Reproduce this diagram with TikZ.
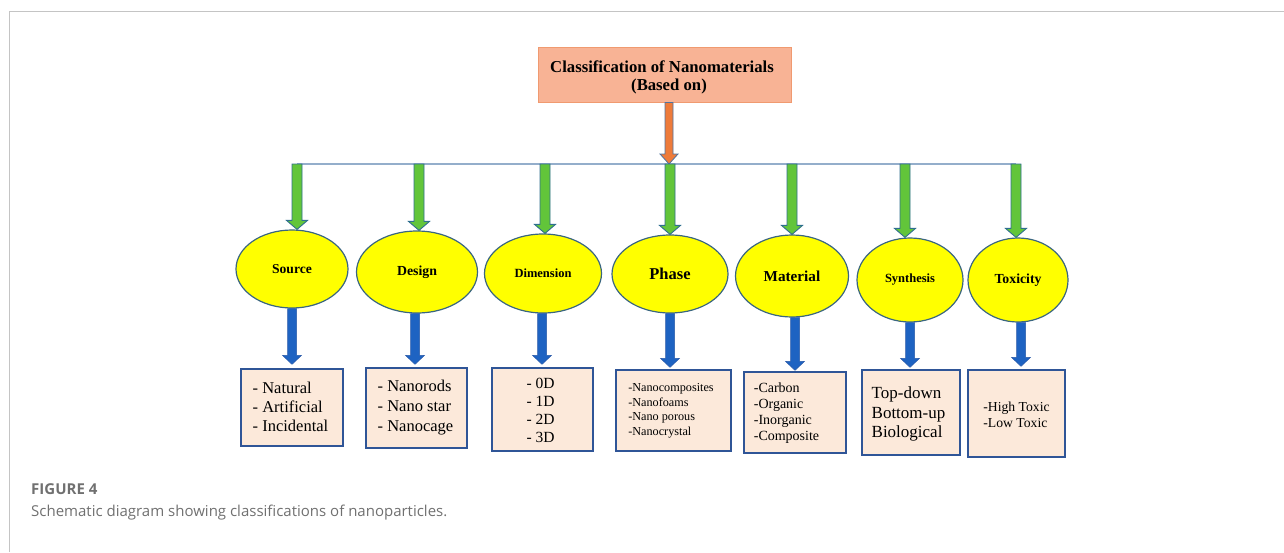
\documentclass[tikz,border=0pt]{standalone}
\usepackage{fontspec}
\setmainfont{Liberation Serif}
\newfontfamily\capfont{Open Sans}
\usetikzlibrary{shapes.geometric,calc}

\definecolor{ellfill}{HTML}{FFFF00}
\definecolor{elldraw}{HTML}{3A6680}
\definecolor{grn}{HTML}{62C53A}
\definecolor{grnd}{HTML}{2F6F8F}
\definecolor{org}{HTML}{EE7B3A}
\definecolor{orgd}{HTML}{4F73A0}
\definecolor{blu}{HTML}{1E63C2}
\definecolor{blud}{HTML}{2A5AA8}
\definecolor{boxfill}{HTML}{FCE9DA}
\definecolor{boxdraw}{HTML}{2F5597}
\definecolor{topfill}{HTML}{F8B395}
\definecolor{topdraw}{HTML}{F09A70}
\definecolor{busc}{HTML}{94AECB}
\definecolor{framec}{HTML}{C4C4C4}
\definecolor{capc}{HTML}{707070}

% #1 start, #2 end (tip), #3 style, #4 half shaft, #5 half head, #6 head length
\newcommand{\blockarr}[6]{%
  \path[#3] let \p1=#1, \p2=#2 in
    (\x1-#4,\y1) -- (\x1+#4,\y1) -- (\x1+#4,\y2+#6) -- (\x1+#5,\y2+#6)
    -- (\x1,\y2) -- (\x1-#5,\y2+#6) -- (\x1-#4,\y2+#6) -- cycle;
}

\tikzset{
  ell/.style={ellipse, draw=elldraw, line width=1.2pt, fill=ellfill, inner sep=0pt},
  bx/.style={rectangle, draw=boxdraw, line width=1.3pt, fill=boxfill, inner sep=0pt},
  txt/.style={align=left, inner sep=0pt},
  grnarr/.style={fill=grn, draw=grnd, line width=0.9pt},
  bluarr/.style={fill=blu, draw=blud, line width=0.5pt},
  orgarr/.style={fill=org, draw=orgd, line width=0.8pt},
  captxt/.style={anchor=base west, inner sep=0pt, text=capc}
}

\begin{document}
\begin{tikzpicture}[x=1pt,y=-1pt]
\useasboundingbox (0,0) rectangle (1284,552);

% frame
\draw[framec, line width=1pt] (9,552) -- (9,11) -- (1284,11);

% title box
\node[rectangle, draw=topdraw, line width=0.8pt, fill=topfill, minimum width=253pt, minimum height=55pt, inner sep=0pt] (top) at (664.5,74.5) {};
\node[align=center, inner sep=0pt, font=\bfseries\fontsize{16.7}{18}\selectfont] (ttl) at (662,77)
  {Classification of Nanomaterials\\\hspace*{14pt}(Based on)};

% bus coordinates
\coordinate (g1) at (297,164);
\coordinate (g2) at (419,164);
\coordinate (g3) at (545,164);
\coordinate (g4) at (670,164);
\coordinate (g5) at (792,164);
\coordinate (g6) at (905,164);
\coordinate (g7) at (1016,164);
\coordinate (o) at (669,164);

\draw[busc, line width=1.2pt] (g1) -- (g7);

% ellipses
\node[ell, minimum width=112pt, minimum height=78pt, font=\bfseries\fontsize{13.6}{15}\selectfont] (e1) at (292,269) {Source};
\node[ell, minimum width=121pt, minimum height=82pt, font=\bfseries\fontsize{13.8}{15}\selectfont] (e2) at (417,272) {Design};
\node[ell, minimum width=117pt, minimum height=79pt, font=\bfseries\fontsize{12.5}{14}\selectfont] (e3) at (543,273.5) {Dimension};
\node[ell, minimum width=116pt, minimum height=78pt, font=\bfseries\fontsize{16.5}{18}\selectfont] (e4) at (670,274) {Phase};
\node[ell, minimum width=113pt, minimum height=82pt, font=\bfseries\fontsize{15.2}{17}\selectfont] (e5) at (792,276) {Material};
\node[ell, minimum width=106pt, minimum height=84pt, font=\bfseries\fontsize{12.5}{14}\selectfont] (e6) at (910,280) {Synthesis};
\node[ell, minimum width=100pt, minimum height=84pt, font=\bfseries\fontsize{13.8}{15}\selectfont] (e7) at (1018,280) {Toxicity};

% boxes
\node[bx, minimum width=102pt, minimum height=77pt] (b1) at (292,407.5) {};
\node[bx, minimum width=101pt, minimum height=80pt] (b2) at (416.5,408) {};
\node[bx, minimum width=101pt, minimum height=83pt] (b3) at (542.5,409.5) {};
\node[bx, minimum width=115pt, minimum height=81pt] (b4) at (673.5,410.5) {};
\node[bx, minimum width=102pt, minimum height=81pt] (b5) at (795,412.5) {};
\node[bx, minimum width=98pt, minimum height=85pt] (b6) at (911,412.5) {};
\node[bx, minimum width=97pt, minimum height=87pt] (b7) at (1016.5,413.5) {};

% box texts
\node[txt, font=\fontsize{16.5}{19}\selectfont] (t1) at ($(b1.center)+(-1.5,-1)$) {- Natural\\- Artificial\\- Incidental};
\node[txt, font=\fontsize{16.5}{20}\selectfont] (t2) at ($(b2.center)+(-1,0)$) {- Nanorods\\- Nano star\\- Nanocage};
\node[txt, font=\fontsize{15.5}{18}\selectfont] (t3) at ($(b3.center)+(-2,1)$) {- 0D\\- 1D\\- 2D\\- 3D};
\node[txt, font=\fontsize{12.2}{14.5}\selectfont] (t4) at ($(b4.center)+(-2.5,0.5)$) {-Nanocomposites\\-Nanofoams\\-Nano porous\\-Nanocrystal};
\node[txt, font=\fontsize{14}{16}\selectfont] (t5) at ($(b5.center)+(-8.5,1)$) {-Carbon\\-Organic\\-Inorganic\\-Composite};
\node[txt, font=\fontsize{17}{19.5}\selectfont] (t6) at ($(b6.center)+(-2.5,1.5)$) {Top-down\\Bottom-up\\Biological};
\node[txt, font=\fontsize{13.7}{16}\selectfont] (t7) at ($(b7.center)+(0,1)$) {-High Toxic\\-Low Toxic};

% orange arrow
\blockarr{([xshift=4.5pt]top.south)}{(o)}{orgarr}{4pt}{9pt}{10pt}

% green arrows
\blockarr{(g1)}{(g1 |- e1.north)}{grnarr}{5pt}{10.5pt}{9pt}
\blockarr{(g2)}{(g2 |- e2.north)}{grnarr}{5pt}{10.5pt}{9pt}
\blockarr{(g3)}{(g3 |- e3.north)}{grnarr}{5pt}{10.5pt}{9pt}
\blockarr{(g4)}{(g4 |- e4.north)}{grnarr}{5pt}{10.5pt}{9pt}
\blockarr{(g5)}{(g5 |- e5.north)}{grnarr}{5pt}{10.5pt}{9pt}
\blockarr{(g6)}{(g6 |- e6.north)}{grnarr}{5pt}{10.5pt}{9pt}
\blockarr{(g7)}{(g7 |- e7.north)}{grnarr}{5pt}{10.5pt}{9pt}

% blue arrows
\blockarr{(e1.south)}{($(b1.north)+(0,-4)$)}{bluarr}{4.5pt}{9.5pt}{9pt}
\blockarr{([xshift=-2pt]e2.south)}{($(b2.north)+(0,-3)$)}{bluarr}{4.5pt}{9.5pt}{9pt}
\blockarr{([xshift=-1pt]e3.south)}{($(b3.north)+(0,-3)$)}{bluarr}{4.5pt}{9.5pt}{9pt}
\blockarr{(e4.south)}{($(b4.north)+(0,-2)$)}{bluarr}{4.5pt}{9.5pt}{9pt}
\blockarr{([xshift=3pt]e5.south)}{($(b5.north)+(0,-1)$)}{bluarr}{4.5pt}{9.5pt}{9pt}
\blockarr{(e6.south)}{($(b6.north)+(0,-2)$)}{bluarr}{4.5pt}{9.5pt}{9pt}
\blockarr{([xshift=3pt]e7.south)}{($(b7.north)+(0,-3)$)}{bluarr}{4.5pt}{9.5pt}{9pt}

% caption
\node[captxt, font=\capfont\bfseries\fontsize{15}{18}\selectfont] (fig) at (31,494) {FIGURE 4};
\node[captxt, font=\capfont\fontsize{15}{18}\selectfont] (cap) at (31,516) {Schematic diagram showing classifications of nanoparticles.};
\end{tikzpicture}
\end{document}
